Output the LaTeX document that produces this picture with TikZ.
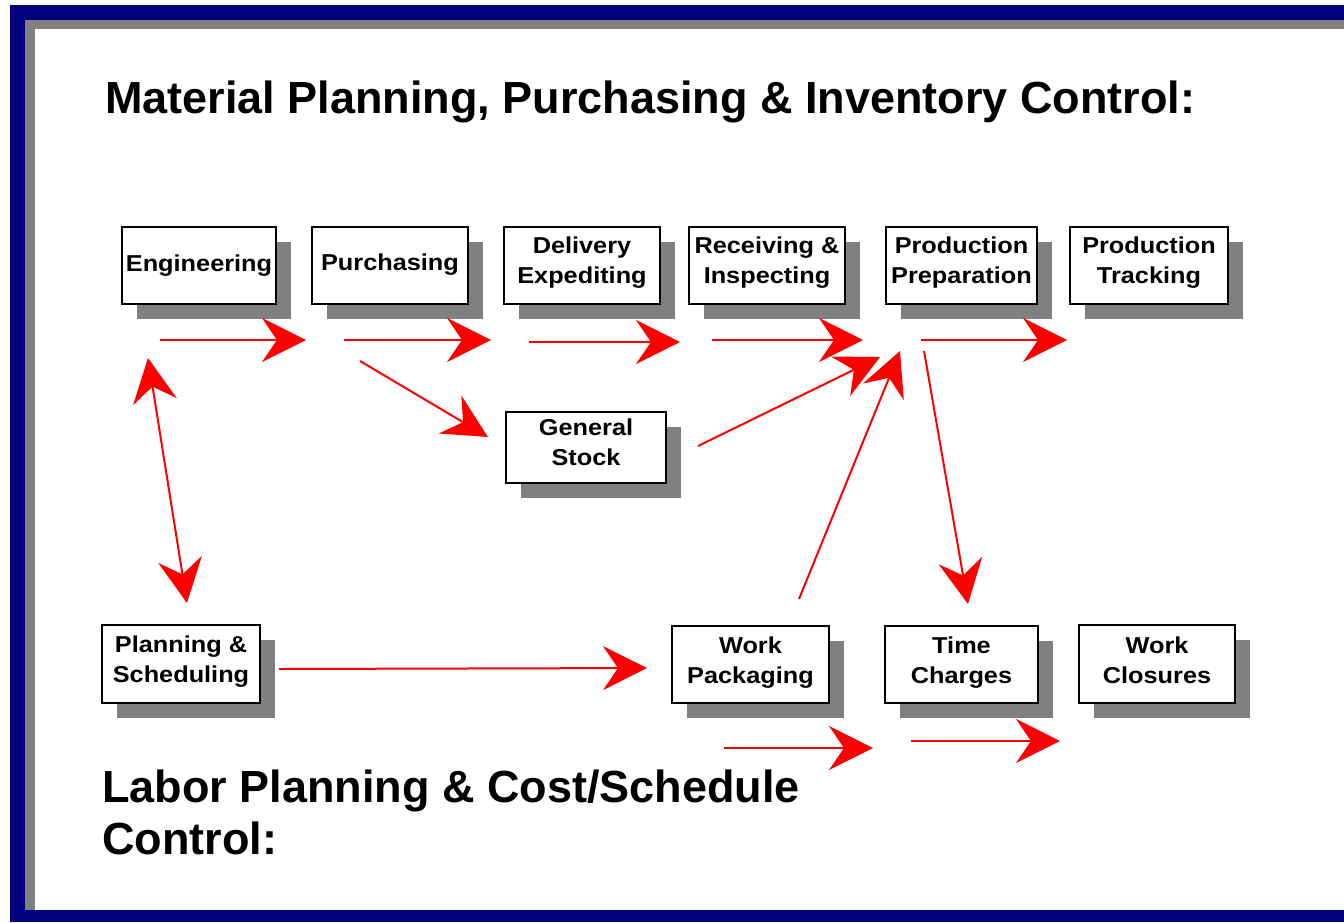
\documentclass[tikz,border=0pt]{standalone}
\usepackage{fontspec}
\setmainfont{Liberation Sans}
\newfontfamily\boxfont[FakeStretch=1.1]{Liberation Sans}
\usetikzlibrary{arrows.meta,shadows}
\definecolor{navyframe}{HTML}{000080}
\definecolor{shadowgray}{HTML}{808080}
\definecolor{arrowred}{HTML}{FF0000}
\tikzset{
  box/.style={draw=black, line width=1.6pt, fill=white, inner sep=0pt,
    drop shadow={shadow xshift=15pt, shadow yshift=-15pt, fill=shadowgray, opacity=1}},
  boxtxt/.style={inner sep=0pt, align=center, anchor=base,
    font=\boxfont\bfseries\fontsize{23}{30}\selectfont},
  titletxt/.style={inner sep=0pt, align=left, anchor=base west,
    font=\bfseries\fontsize{45}{52}\selectfont},
  flow/.style={draw=arrowred, line width=2pt,
    -{Stealth[length=44pt, width=44pt, inset=15pt, fill=arrowred]}},
  bothflow/.style={draw=arrowred, line width=2pt,
    {Stealth[length=44pt, width=44pt, inset=15pt, fill=arrowred]}-{Stealth[length=44pt, width=44pt, inset=15pt, fill=arrowred]}}
}
\begin{document}
\begin{tikzpicture}[x=1pt, y=-1pt]
\useasboundingbox (0,0) rectangle (1344,922);
% frame
\fill[white] (0,0) rectangle (1344,922);
\fill[navyframe] (10,5) rectangle (1344,922);
\fill[shadowgray] (25,20) rectangle (1344,910);
\fill[white] (35,29) rectangle (1344,910);

% titles
\node[titletxt] (title1) at (105,113) {Material Planning, Purchasing \& Inventory Control:};
\node[titletxt] (title2) at (102,854) {Labor Planning \& Cost/Schedule\\Control:};

% boxes
\node[box, minimum width=154pt, minimum height=77pt] (eng) at (199,265.5) {};
\node[box, minimum width=156pt, minimum height=77pt] (pur) at (390,265.5) {};
\node[box, minimum width=156pt, minimum height=77pt] (del) at (582,265.5) {};
\node[box, minimum width=156pt, minimum height=77pt] (rec) at (767,265.5) {};
\node[box, minimum width=151pt, minimum height=77pt] (pp) at (961.5,265.5) {};
\node[box, minimum width=158pt, minimum height=77pt] (pt) at (1149,265.5) {};
\node[box, minimum width=160pt, minimum height=71pt] (gs) at (586,447.5) {};
\node[box, minimum width=158pt, minimum height=78pt] (ps) at (181,664) {};
\node[box, minimum width=157pt, minimum height=77pt] (wp) at (750.5,664.5) {};
\node[box, minimum width=153pt, minimum height=77pt] (tc) at (961.5,664.5) {};
\node[box, minimum width=156pt, minimum height=78pt] (wc) at (1157,664) {};

% box texts (base anchor = last line baseline)
\node[boxtxt] (engt) at (199,271) {Engineering};
\node[boxtxt] (purt) at (390,270) {Purchasing};
\node[boxtxt] (delt) at (582,283) {Delivery\\Expediting};
\node[boxtxt] (rect) at (767,283) {Receiving \&\\Inspecting};
\node[boxtxt] (ppt) at (961.5,283) {Production\\Preparation};
\node[boxtxt] (ptt) at (1149,283) {Production\\Tracking};
\node[boxtxt] (gst) at (586,465) {General\\Stock};
\node[boxtxt] (pst) at (181,682) {Planning \&\\Scheduling};
\node[boxtxt] (wpt) at (750.5,683) {Work\\Packaging};
\node[boxtxt] (tct) at (961.5,683) {Time\\Charges};
\node[boxtxt] (wct) at (1157,683) {Work\\Closures};

% arrow end points
\coordinate (a1s) at (160,340);  \coordinate (a1e) at (306,340);
\coordinate (a2s) at (344,340);  \coordinate (a2e) at (491,340);
\coordinate (a3s) at (529,342);  \coordinate (a3e) at (680,342);
\coordinate (a4s) at (712,340);  \coordinate (a4e) at (863,340);
\coordinate (a5s) at (921,340);  \coordinate (a5e) at (1067,340);
\coordinate (a6s) at (360,361);  \coordinate (a6e) at (488,437);
\coordinate (a7s) at (698,446);  \coordinate (a7e) at (880,357);
\coordinate (a8s) at (799,599);  \coordinate (a8e) at (900,351);
\coordinate (a9s) at (924,351);  \coordinate (a9e) at (968,604);
\coordinate (a10s) at (148,358); \coordinate (a10e) at (187,603);
\coordinate (a11s) at (279,669); \coordinate (a11e) at (647,668);
\coordinate (a12s) at (724,748); \coordinate (a12e) at (873,748);
\coordinate (a13s) at (911,741); \coordinate (a13e) at (1060,741);

% arrows
\draw[flow] (a1s) -- (a1e);
\draw[flow] (a2s) -- (a2e);
\draw[flow] (a3s) -- (a3e);
\draw[flow] (a4s) -- (a4e);
\draw[flow] (a5s) -- (a5e);
\draw[flow] (a6s) -- (a6e);
\draw[flow] (a7s) -- (a7e);
\draw[flow] (a8s) -- (a8e);
\draw[flow] (a9s) -- (a9e);
\draw[bothflow] (a10s) -- (a10e);
\draw[flow] (a11s) -- (a11e);
\draw[flow] (a12s) -- (a12e);
\draw[flow] (a13s) -- (a13e);
\end{tikzpicture}
\end{document}
